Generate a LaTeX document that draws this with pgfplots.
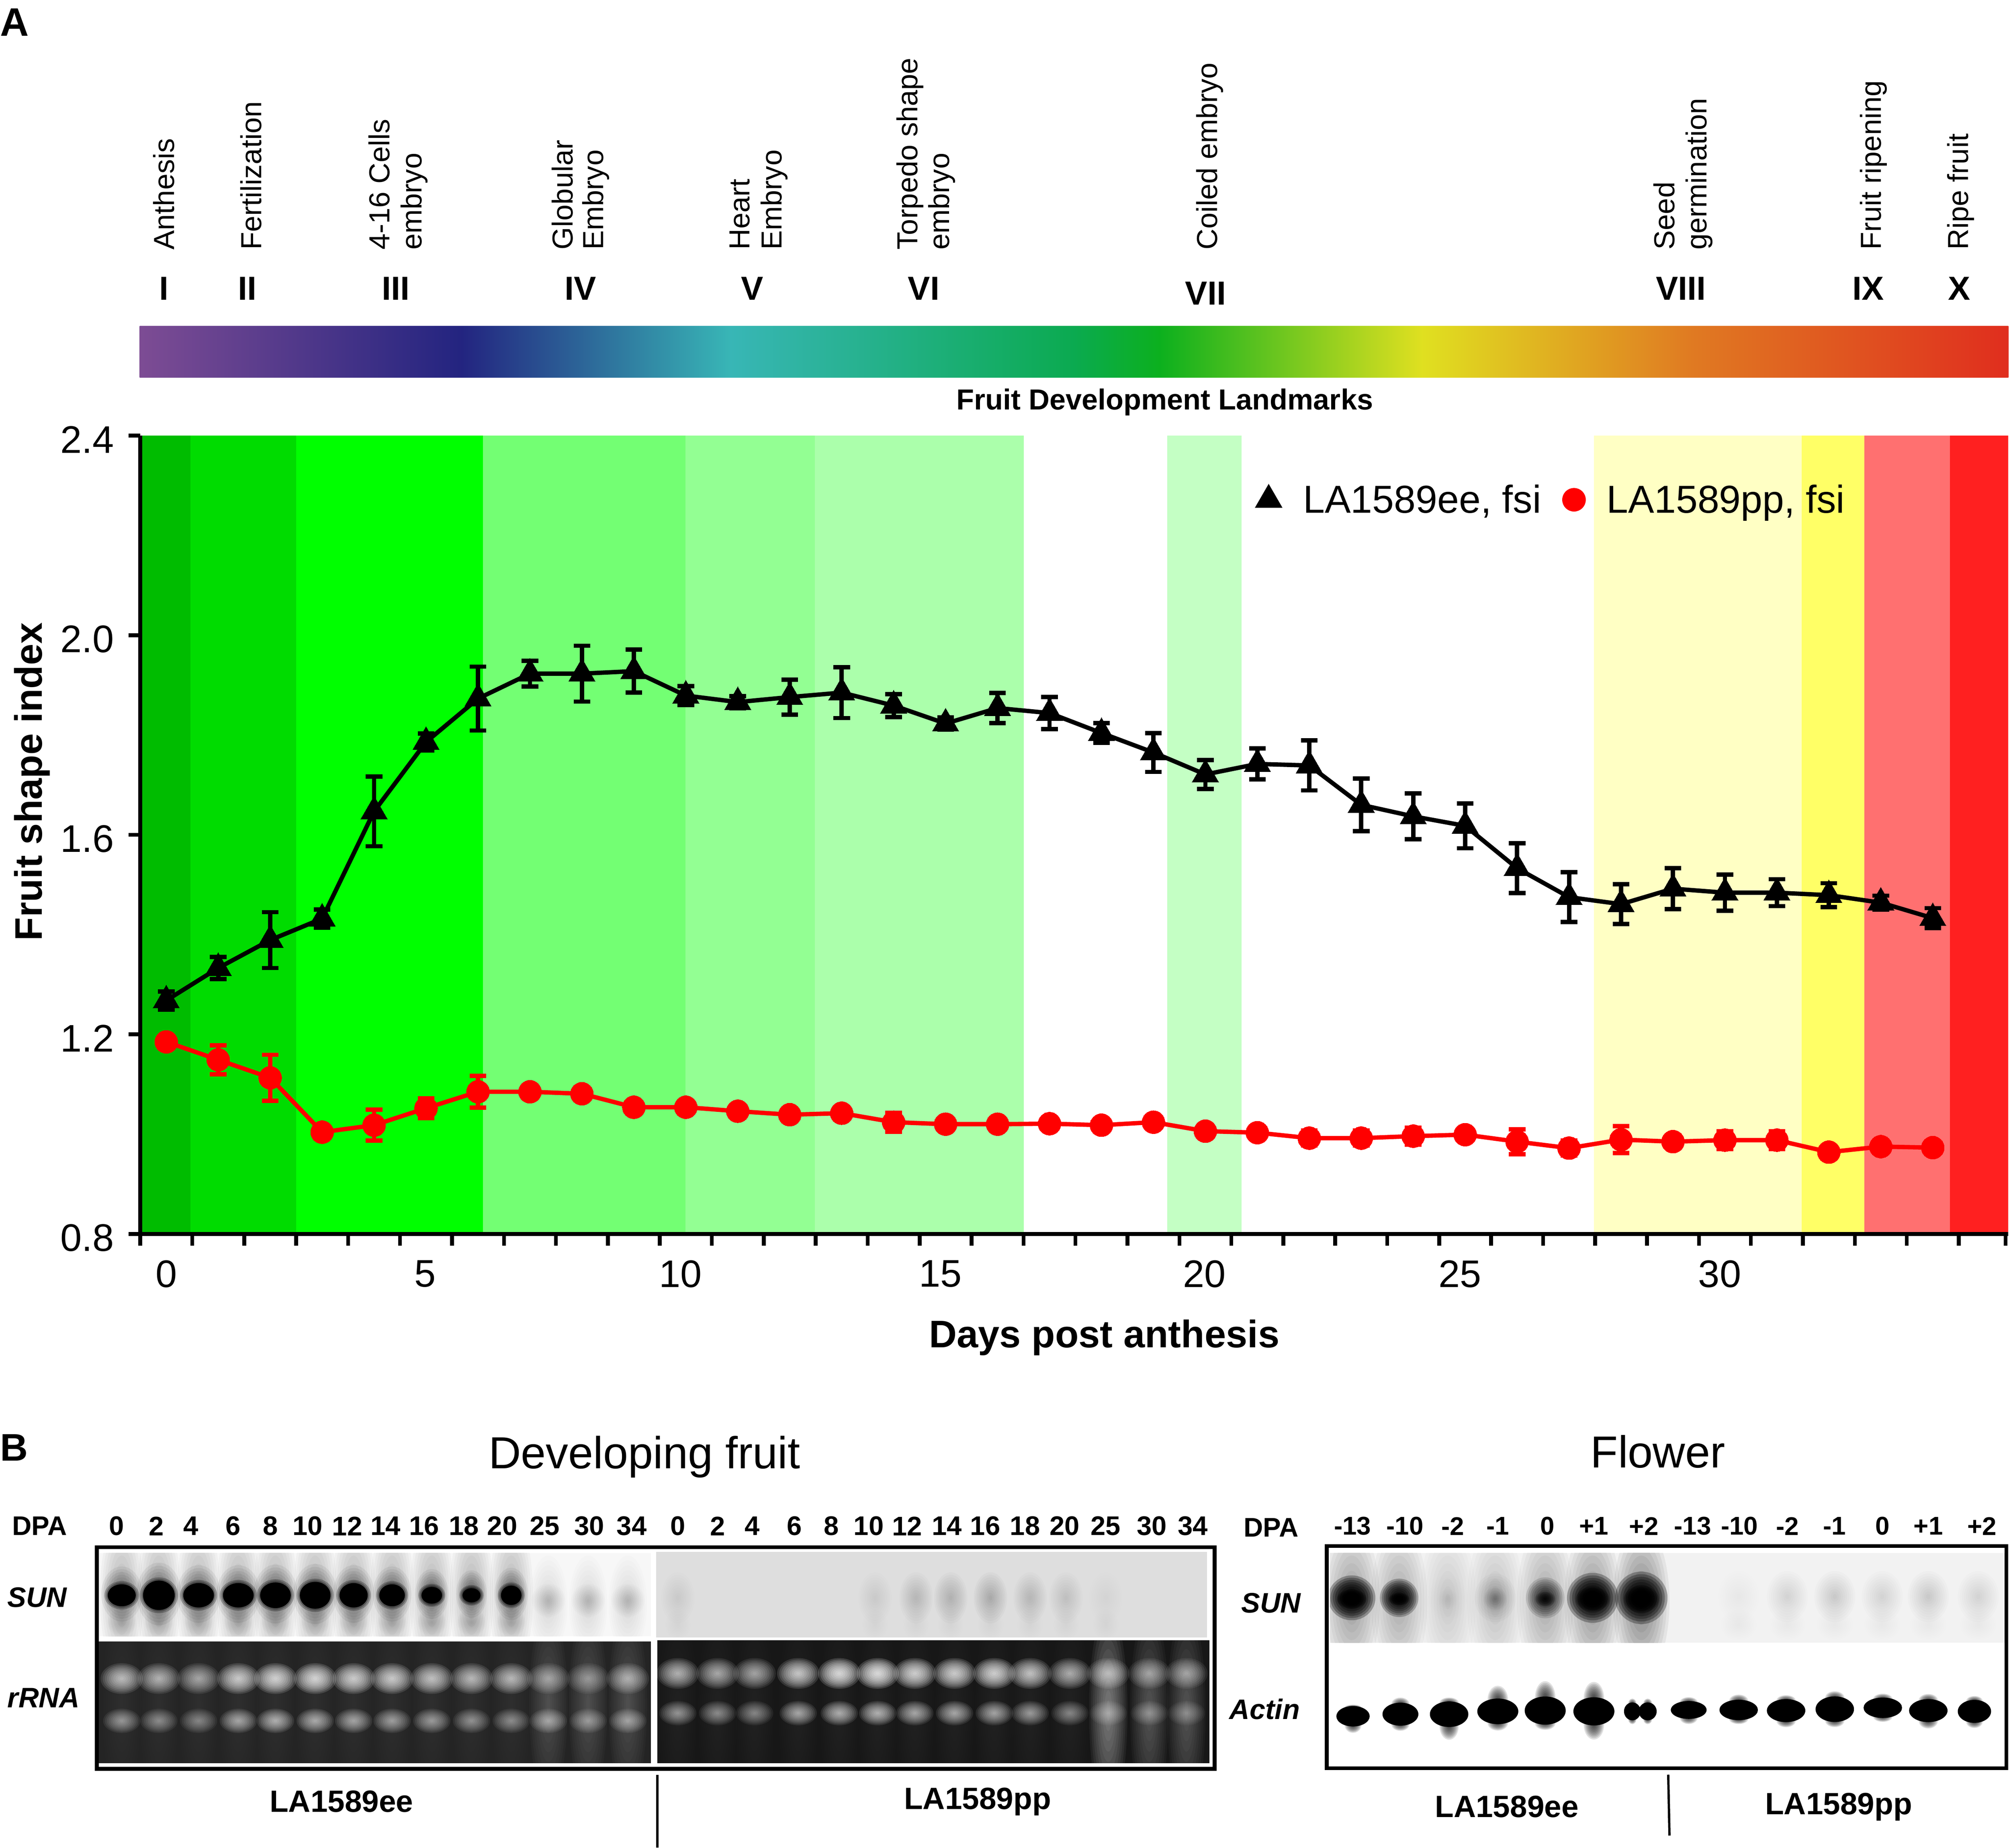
\documentclass[border=0pt]{standalone}
\usepackage{fontspec}
\setmainfont{Liberation Sans}
\usepackage{pgfplots}
\usepackage{pgfplotstable}
\pgfplotsset{compat=1.18}
\newcommand\fs[1]{\fontsize{#1}{#1}\selectfont}
% soft blot: ten stacked translucent ellipses (x, y, rx, ry, colour, opacity of one layer)
\newcommand\softblob[6]{\foreach \f in {10,...,1}{\fill[#5,opacity=#6] (#1,#2) ellipse [x radius={(#3)*\f/10},y radius={(#4)*\f/10}];}}
\definecolor{bA}{HTML}{00BC00}
\definecolor{bB}{HTML}{00DC00}
\definecolor{bC}{HTML}{00FF00}
\definecolor{bD}{HTML}{73FF73}
\definecolor{bE}{HTML}{93FF93}
\definecolor{bF}{HTML}{ABFFAB}
\definecolor{bG}{HTML}{C4FFC4}
\definecolor{bH}{HTML}{FFFFC4}
\definecolor{bI}{HTML}{FFFF66}
\definecolor{bJ}{HTML}{FF7070}
\definecolor{bK}{HTML}{FF2020}
\definecolor{g0}{HTML}{7D4C94}
\definecolor{g1}{HTML}{232480}
\definecolor{g2}{HTML}{38B6B6}
\definecolor{g3}{HTML}{0BAA50}
\definecolor{g4}{HTML}{0CB01E}
\definecolor{g5}{HTML}{E0E020}
\definecolor{g6}{HTML}{E07A22}
\definecolor{g7}{HTML}{E02E1E}
\pgfplotstableread{
x y e
0 1.268 0.018
1 1.333 0.022
2 1.389 0.056
3 1.432 0.018
4 1.647 0.070
5 1.786 0.017
6 1.873 0.064
7 1.923 0.026
8 1.923 0.056
9 1.928 0.043
10 1.879 0.019
11 1.866 0.012
12 1.876 0.035
13 1.885 0.051
14 1.859 0.023
15 1.823 0.012
16 1.854 0.030
17 1.844 0.032
18 1.804 0.020
19 1.765 0.039
20 1.721 0.029
21 1.742 0.031
22 1.739 0.050
23 1.660 0.053
24 1.637 0.046
25 1.618 0.045
26 1.533 0.050
27 1.475 0.050
28 1.461 0.040
29 1.492 0.041
30 1.484 0.036
31 1.484 0.027
32 1.479 0.024
33 1.464 0.014
34 1.433 0.020
}\ee
\pgfplotstableread{
x y e
0 1.185 0.010
1 1.149 0.029
2 1.113 0.046
3 1.004 0.010
4 1.018 0.031
5 1.052 0.020
6 1.085 0.032
7 1.085 0.005
8 1.081 0.005
9 1.054 0.008
10 1.054 0.005
11 1.046 0.005
12 1.039 0.010
13 1.042 0.005
14 1.024 0.019
15 1.020 0.010
16 1.020 0.012
17 1.021 0.005
18 1.018 0.005
19 1.024 0.005
20 1.006 0.012
21 1.003 0.008
22 0.992 0.015
23 0.992 0.015
24 0.996 0.017
25 0.999 0.010
26 0.985 0.025
27 0.972 0.015
28 0.989 0.027
29 0.985 0.012
30 0.988 0.018
31 0.988 0.018
32 0.964 0.012
33 0.975 0.005
34 0.973 0.005
}\pp
\newcommand\band[3]{\addplot[fill=#3,draw=none,mark=none,forget plot] coordinates {(#1,0.8)(#1,2.4)(#2,2.4)(#2,0.8)} --cycle;}
\begin{document}
\begin{tikzpicture}[x=1pt,y=-1pt]
\useasboundingbox (0,0) rectangle (1568,1442);

% ---------- top landmarks
\node[anchor=base west,inner sep=0] at (0,28) {\fs{31}\bfseries A};
\foreach \x/\t in {136/Anthesis,204/Fertilization,304/4-16 Cells,329/embryo,447/Globular,471/Embryo,585/Heart,610/Embryo,716/Torpedo shape,741/embryo,950/Coiled embryo,1307/Seed,1332/germination,1468/Fruit ripening,1536/Ripe fruit}
  \node[anchor=base west,rotate=90,inner sep=0] at (\x,195) {\fs{22.6}\t};
\foreach \x/\y/\t in {128/234/I,193/234/II,309/234/III,453/234/IV,587/234/V,721/234/VI,941/238/VII,1312/234/VIII,1458/234/IX,1529/234/X}
  \node[anchor=base,inner sep=0] at (\x,\y) {\fs{26}\bfseries \t};
\foreach \a/\b/\ca/\cb in {109/360/g0/g1,360/570/g1/g2,570/838/g2/g3,838/905/g3/g4,905/1110/g4/g5,1110/1320/g5/g6,1320/1567/g6/g7}
  \fill[left color=\ca,right color=\cb] (\a,254.5) rectangle (\b+0.5,294.5);
\node[inner sep=0] at (909,314) {\fs{22.6}\bfseries Fruit Development Landmarks};

% ---------- main chart
\begin{axis}[
  at={(109.5pt,-963pt)},anchor=south west,scale only axis,
  width=1457.8pt,height=623pt,
  xmin=-0.5,xmax=35.45,ymin=0.8,ymax=2.4,
  axis lines=left,axis line style={-,line width=3pt},axis on top,
  ytick={0.8,1.2,1.6,2.0,2.4},
  xtick={-0.5,0.5,...,34.5,35.4},xticklabels={},
  extra x ticks={0,4.98,9.9,14.9,19.98,24.9,29.9},
  extra x tick labels={0,5,10,15,20,25,30},
  extra x tick style={major tick length=0pt,xticklabel style={yshift=-17pt}},
  tick style={black,line width=3pt},
  major tick length=9pt,
  tick align=outside,
  ticklabel style={font=\fs{30}},
  yticklabel style={yshift=-3pt,xshift=-8pt},
  /pgf/number format/assume math mode=true,
  yticklabel={\pgfmathprintnumber[fixed,fixed zerofill,precision=1,assume math mode=true]{\tick}},
  xlabel={\fs{30}\bfseries Days post anthesis},
  ylabel={\fs{30}\bfseries Fruit shape index},
  xlabel style={at={(0.5,0)},anchor=center,yshift=-81pt,xshift=23.5pt},
  ylabel style={at={(0,0.5)},anchor=center,xshift=41.5pt,yshift=84.5pt},
  legend columns=2,
  legend style={at={(0.7555,0.9197)},anchor=center,draw=none,fill=none,font=\fs{30.4},inner sep=0pt,
    /tikz/every even column/.append style={column sep=14.5pt},
    /tikz/every odd column/.append style={column sep=14.5pt}},
  clip=false,
]
\band{-0.48}{0.462}{bA}
\band{0.462}{2.496}{bB}
\band{2.496}{6.096}{bC}
\band{6.096}{9.993}{bD}
\band{9.993}{12.484}{bE}
\band{12.484}{16.504}{bF}
\band{19.266}{20.696}{bG}
\band{27.478}{31.474}{bH}
\band{31.474}{32.682}{bI}
\band{32.682}{34.334}{bJ}
\band{34.334}{35.45}{bK}
\addlegendimage{only marks,mark=triangle*,mark size=12pt,black}
\addlegendentry{LA1589ee, fsi}
\addlegendimage{only marks,mark=*,mark size=9pt,red}
\addlegendentry{LA1589pp, fsi}
\addplot[black,line width=3.4pt,mark=triangle*,mark size=12pt,mark options={solid,fill=black,line width=0pt},forget plot,
  error bars/.cd,y dir=both,y explicit,error bar style={black,line width=3.4pt},
  error mark options={black,rotate=90,mark size=6.5pt,line width=3.4pt}]
  table[x=x,y=y,y error=e]{\ee};
\addplot[red,line width=3.4pt,mark=*,mark size=9pt,mark options={solid,fill=red,line width=0pt},forget plot,
  error bars/.cd,y dir=both,y explicit,error bar style={red,line width=3.4pt},
  error mark options={red,rotate=90,mark size=6.5pt,line width=3.4pt}]
  table[x=x,y=y,y error=e]{\pp};
\end{axis}

% ---------- panel B texts
\node[anchor=base west,inner sep=0] at (0,1140) {\fs{30}\bfseries B};
\node[inner sep=0] at (503,1137) {\fs{35}Developing fruit};
\node[inner sep=0] at (1294,1133) {\fs{35}Flower};
\node[inner sep=0] at (31,1191) {\fs{21}\bfseries DPA};
\node[inner sep=0] at (992,1192) {\fs{21}\bfseries DPA};
\foreach \x/\t in {91/0,122/2,149/4,182/6,211/8,240/10,271/12,301/14,331/16,362/18,392/20,425/25,460/30,493/34,529/0,560/2,587/4,620/6,649/8,678/10,708/12,739/14,769/16,800/18,831/20,863/25,899/30,931/34}
  \node[inner sep=0] at (\x,1191) {\fs{21}\bfseries \t};
\foreach \x/\t in {1055.6/-13,1096.5/-10,1133.8/-2,1169/-1,1207.6/0,1244/+1,1283/+2,1321/-13,1357.6/-10,1395/-2,1431.7/-1,1469.4/0,1505/+1,1547/+2}
  \node[inner sep=0] at (\x,1191) {\fs{20}\bfseries \t};
\node[inner sep=0] at (29,1246.5) {\fs{22}\bfseries\itshape SUN};
\node[inner sep=0] at (34,1325) {\fs{22}\bfseries\itshape rRNA};
\node[inner sep=0] at (992,1251) {\fs{22}\bfseries\itshape SUN};
\node[inner sep=0] at (987,1334) {\fs{22}\bfseries\itshape Actin};
\node[inner sep=0] at (266.5,1406) {\fs{24}\bfseries LA1589ee};
\node[inner sep=0] at (763,1406) {\fs{24}\bfseries LA1589pp};
\node[inner sep=0] at (1176,1410) {\fs{24}\bfseries LA1589ee};
\node[inner sep=0] at (1435,1410) {\fs{24}\bfseries LA1589pp};
\draw[line width=1.8pt] (513,1385) -- (513,1442);
\draw[line width=1.8pt] (1302,1385) -- (1303,1432.5);

% ---------- fruit SUN, left
\begin{scope}
\clip (77,1212) rectangle (508,1277);
\fill[black!3] (77,1212) rectangle (508,1277);
\foreach \x in {95,124,155,186,215,246,276,306,337,368,399}{
  \softblob{\x}{1245}{17}{62}{black}{0.028}
}
\foreach \x in {428,459,490}{
  \softblob{\x}{1252}{15}{38}{black}{0.012}
}
\foreach \x/\rx/\ry in {95/11/8.5,124/12.4/11.5,155/12/9.5,186/12/9.5,215/12/10,246/12/10.5,276/11/9.5,306/10/8.5,337/8/6.5,368/7/5.5,399/8/7.5}{
  \softblob{\x}{1244}{\rx+5}{\ry+13}{black}{0.06}
  \softblob{\x}{1245}{\rx+2.5}{\ry+2.5}{black}{0.25}
  \softblob{\x}{1266}{11}{11}{black}{0.018}
  \fill[black] (\x,1245) ellipse [x radius=\rx,y radius=\ry];
}
\foreach \x in {428,459,490}{
  \softblob{\x}{1249}{13}{13}{black}{0.015}
}
\end{scope}
% ---------- fruit SUN, right
\begin{scope}
\clip (512,1211) rectangle (942,1278);
\fill[black!13] (512,1211) rectangle (942,1278);
\foreach \x/\k in {529/4,683/3,715/7,742/10,773/11,804/8,832/5,863/2}{
  \pgfmathsetmacro\a{\k/500}
  \softblob{\x}{1247}{13}{20}{black}{\a}
  \softblob{\x}{1268}{10}{12}{black}{0.003}
}
\end{scope}
% ---------- fruit rRNA, left
\begin{scope}
\clip (77,1281) rectangle (508,1376);
\fill[black!86] (77,1281) rectangle (508,1376);
\foreach \x/\ku/\kl/\s in {95/55/35/3,124/48/30/3,155/42/28/3,186/66/42/3,215/72/46/3,246/74/44/3,276/68/40/3,306/66/38/3,337/60/36/3,368/54/32/3,399/54/30/3,428/36/36/12,459/30/30/11,490/42/34/11}{
  \pgfmathsetmacro\au{\ku/520}\pgfmathsetmacro\al{\kl/520}\pgfmathsetmacro\ss{\s/500}
  \softblob{\x}{1330}{15}{75}{white}{\ss}
  \softblob{\x}{1310}{16.5}{12}{white}{\au}
  \softblob{\x}{1343}{14.5}{9.5}{white}{\al}
}
\end{scope}
% ---------- fruit rRNA, right
\begin{scope}
\clip (513,1280) rectangle (944,1376);
\fill[black!91] (513,1280) rectangle (944,1376);
\foreach \x/\ku/\kl/\s in {529/50/36/3,560/46/32/3,589/44/30/3,623/66/44/3,655/80/48/3,685/84/50/3,714/72/44/4,745/70/44/3,776/72/42/3,804/62/38/3,835/48/30/3,865/44/24/28,897/36/24/16,926/36/22/16}{
  \pgfmathsetmacro\au{\ku/520}\pgfmathsetmacro\al{\kl/520}\pgfmathsetmacro\ss{\s/500}
  \softblob{\x}{1335}{15}{80}{white}{\ss}
  \softblob{\x}{1306}{16.5}{12}{white}{\au}
  \softblob{\x}{1337}{14.5}{9.5}{white}{\al}
}
\end{scope}
\draw[line width=3pt] (75.5,1207.5) rectangle (948,1380.5);

% ---------- flower SUN
\begin{scope}
\clip (1038,1212) rectangle (1565,1282);
\fill[black!5] (1038,1212) rectangle (1565,1282);
\foreach \x/\k in {1055/4,1092/3,1130/1.5,1167/2,1206/3,1243/4.5,1281/5.5}{
  \pgfmathsetmacro\a{\k/100}
  \softblob{\x}{1250}{22}{60}{black}{\a}
}
\foreach \x/\rx/\ry/\k in {1055/11.5/7.5/100,1092/8/5/85,1130/8/8/2,1167/9/9/8,1206/8/6/45,1243/13/9.5/100,1281/13.5/10.5/100}{
  \pgfmathsetmacro\a{\k/350}
  \softblob{\x}{1247}{\rx+7}{\ry+10}{black}{\a}
  \softblob{\x}{1248}{\rx}{\ry}{black}{\a}
}
\foreach \x/\k in {1357/2,1395/6,1432/7,1469/6,1505/7,1544/6}{
  \pgfmathsetmacro\a{\k/500}
  \softblob{\x}{1246}{16}{20}{black}{\a}
  \softblob{\x}{1268}{14}{12}{black}{0.004}
}
\end{scope}
% ---------- flower Actin
\foreach \x/\y/\rx/\ry/\t/\b in {1056/1339.4/13/8/0/4,1093/1337.8/14/9/3/3,1131/1337.8/15/10/2/9,1169/1335.6/16/10/9/4,1206/1335/16/11/11/3,1244/1335.6/16/11/11/10,1274/1335.6/6.5/7/2/2,1286/1335.6/7/7/2/2,1318/1334.5/14/7/2/3,1357/1334.5/15/8/3/2,1394/1335/15/9/2/3,1432/1333.9/15/10/3/3,1469.5/1332.8/15/8/2/2,1505/1335/15/9/3/4,1541/1335.6/13/9/2/3}{
  \pgfmathsetmacro\yt{\y-\ry+1}\pgfmathsetmacro\yb{\y+\ry-1}
  \softblob{\x}{\yt}{\rx*0.5}{\t+2}{black}{0.12}
  \softblob{\x}{\yb}{\rx*0.5}{\b+2}{black}{0.12}
  \fill[black] (\x,\y) ellipse [x radius=\rx,y radius=\ry];
}
\draw[line width=3pt] (1035.5,1206.5) rectangle (1566,1380);
\end{tikzpicture}
\end{document}
